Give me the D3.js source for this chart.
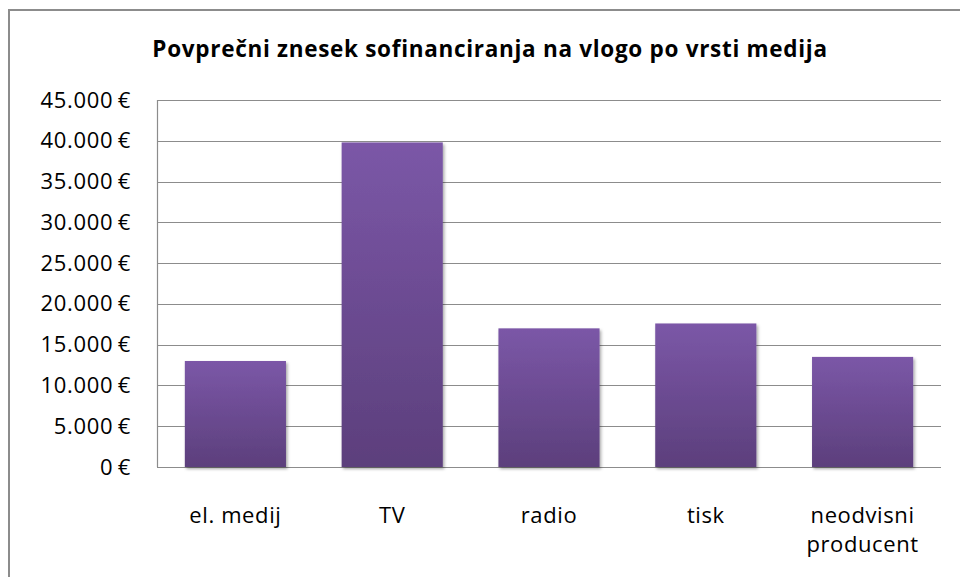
<!DOCTYPE html>
<html>
<head>
<meta charset="utf-8">
<script src="https://cdn.jsdelivr.net/npm/d3@7"></script>
<style>
  body { margin: 0; background: #fff; }
  svg { display: block; font-family: 'Open Sans', sans-serif; }
</style>
</head>
<body>
<div id="chart"></div>
<script>
const categories = [['el. medij'], ['TV'], ['radio'], ['tisk'], ['neodvisni', 'producent']]
const values = [13000, 39800, 17000, 17600, 13500]
const yTicks = [0, 5000, 10000, 15000, 20000, 25000, 30000, 35000, 40000, 45000]
const title = 'Povprečni znesek sofinanciranja na vlogo po vrsti medija'

const width = 960
const height = 577
const margin = { top: 100, right: 19, bottom: 110, left: 157 }

const svg = d3.select('#chart')
  .append('svg')
  .attr('width', width)
  .attr('height', height)

// gradient + shadow for bars
const defs = svg.append('defs')
const grad = defs.append('linearGradient')
  .attr('id', 'barGrad')
  .attr('x1', 0).attr('y1', 0).attr('x2', 0).attr('y2', 1)
grad.append('stop').attr('offset', '0%').attr('stop-color', '#7b57a7')
grad.append('stop').attr('offset', '100%').attr('stop-color', '#5c3f7c')

const shadow = defs.append('filter')
  .attr('id', 'shadow')
  .attr('x', '-10%').attr('y', '-10%').attr('width', '130%').attr('height', '130%')
shadow.append('feDropShadow')
  .attr('dx', 1.5).attr('dy', 2)
  .attr('stdDeviation', 1.5)
  .attr('flood-color', '#000')
  .attr('flood-opacity', 0.35)

// frame
svg.append('rect')
  .attr('x', 9)
  .attr('y', 10)
  .attr('width', 980)
  .attr('height', 600)
  .attr('fill', '#fff')
  .attr('stroke', '#8c8c8c')
  .attr('stroke-width', 2)

// title
svg.append('text')
  .attr('x', 490)
  .attr('y', 57)
  .attr('text-anchor', 'middle')
  .style('font-size', '22.5px')
  .style('font-weight', 'bold')
  .style('letter-spacing', '0.7px')
  .attr('fill', '#000')
  .text(title)

const x = d3.scaleBand()
  .domain(categories.map(d => d.join(' ')))
  .range([margin.left, width - margin.right])
  .paddingInner(0.355)
  .paddingOuter(0.1775)

const y = d3.scaleLinear()
  .domain([0, 45000])
  .range([height - margin.bottom, margin.top])

const fmt = d3.formatLocale({ decimal: ',', thousands: '.', grouping: [3], currency: ['', ' €'] }).format(',.0f')

// gridlines
svg.append('g')
  .selectAll('line')
  .data(yTicks)
  .join('line')
  .attr('x1', margin.left)
  .attr('x2', width - margin.right)
  .attr('y1', d => Math.round(y(d)) + 0.5)
  .attr('y2', d => Math.round(y(d)) + 0.5)
  .attr('stroke', '#8c8c8c')
  .attr('stroke-width', 1.2)

// left axis line
svg.append('line')
  .attr('x1', margin.left + 0.5)
  .attr('x2', margin.left + 0.5)
  .attr('y1', y(45000))
  .attr('y2', y(0))
  .attr('stroke', '#8c8c8c')
  .attr('stroke-width', 1.2)

// y labels
const yAxis = d3.axisLeft(y)
  .tickValues(yTicks)
  .tickSize(0)
  .tickPadding(26)
  .tickFormat(d => fmt(d) + '\u2009€')

const yg = svg.append('g')
  .attr('transform', `translate(${margin.left},0)`)
  .call(yAxis)
yg.select('.domain').remove()
yg.selectAll('text')
  .style('font-size', '22px')
  .style('letter-spacing', '0.7px')
  .style('font-family', "'Open Sans', sans-serif")
  .attr('fill', '#000')

// bars
svg.append('g')
  .selectAll('rect')
  .data(values)
  .join('rect')
  .attr('x', (d, i) => x(categories[i].join(' ')))
  .attr('y', d => y(d))
  .attr('width', x.bandwidth())
  .attr('height', d => y(0) - y(d))
  .attr('fill', 'url(#barGrad)')
  .attr('filter', 'url(#shadow)')

// category labels
const catLabels = svg.append('g')
  .selectAll('text')
  .data(categories)
  .join('text')
  .attr('x', d => x(d.join(' ')) + x.bandwidth() / 2)
  .attr('y', 523)
  .attr('text-anchor', 'middle')
  .style('font-size', '22px')
  .style('letter-spacing', '0.6px')
  .attr('fill', '#000')

catLabels.selectAll('tspan')
  .data(d => d)
  .join('tspan')
  .attr('x', function () { return d3.select(this.parentNode).attr('x') })
  .attr('dy', (d, i) => i === 0 ? 0 : 29)
  .text(d => d)
</script>
</body>
</html>
